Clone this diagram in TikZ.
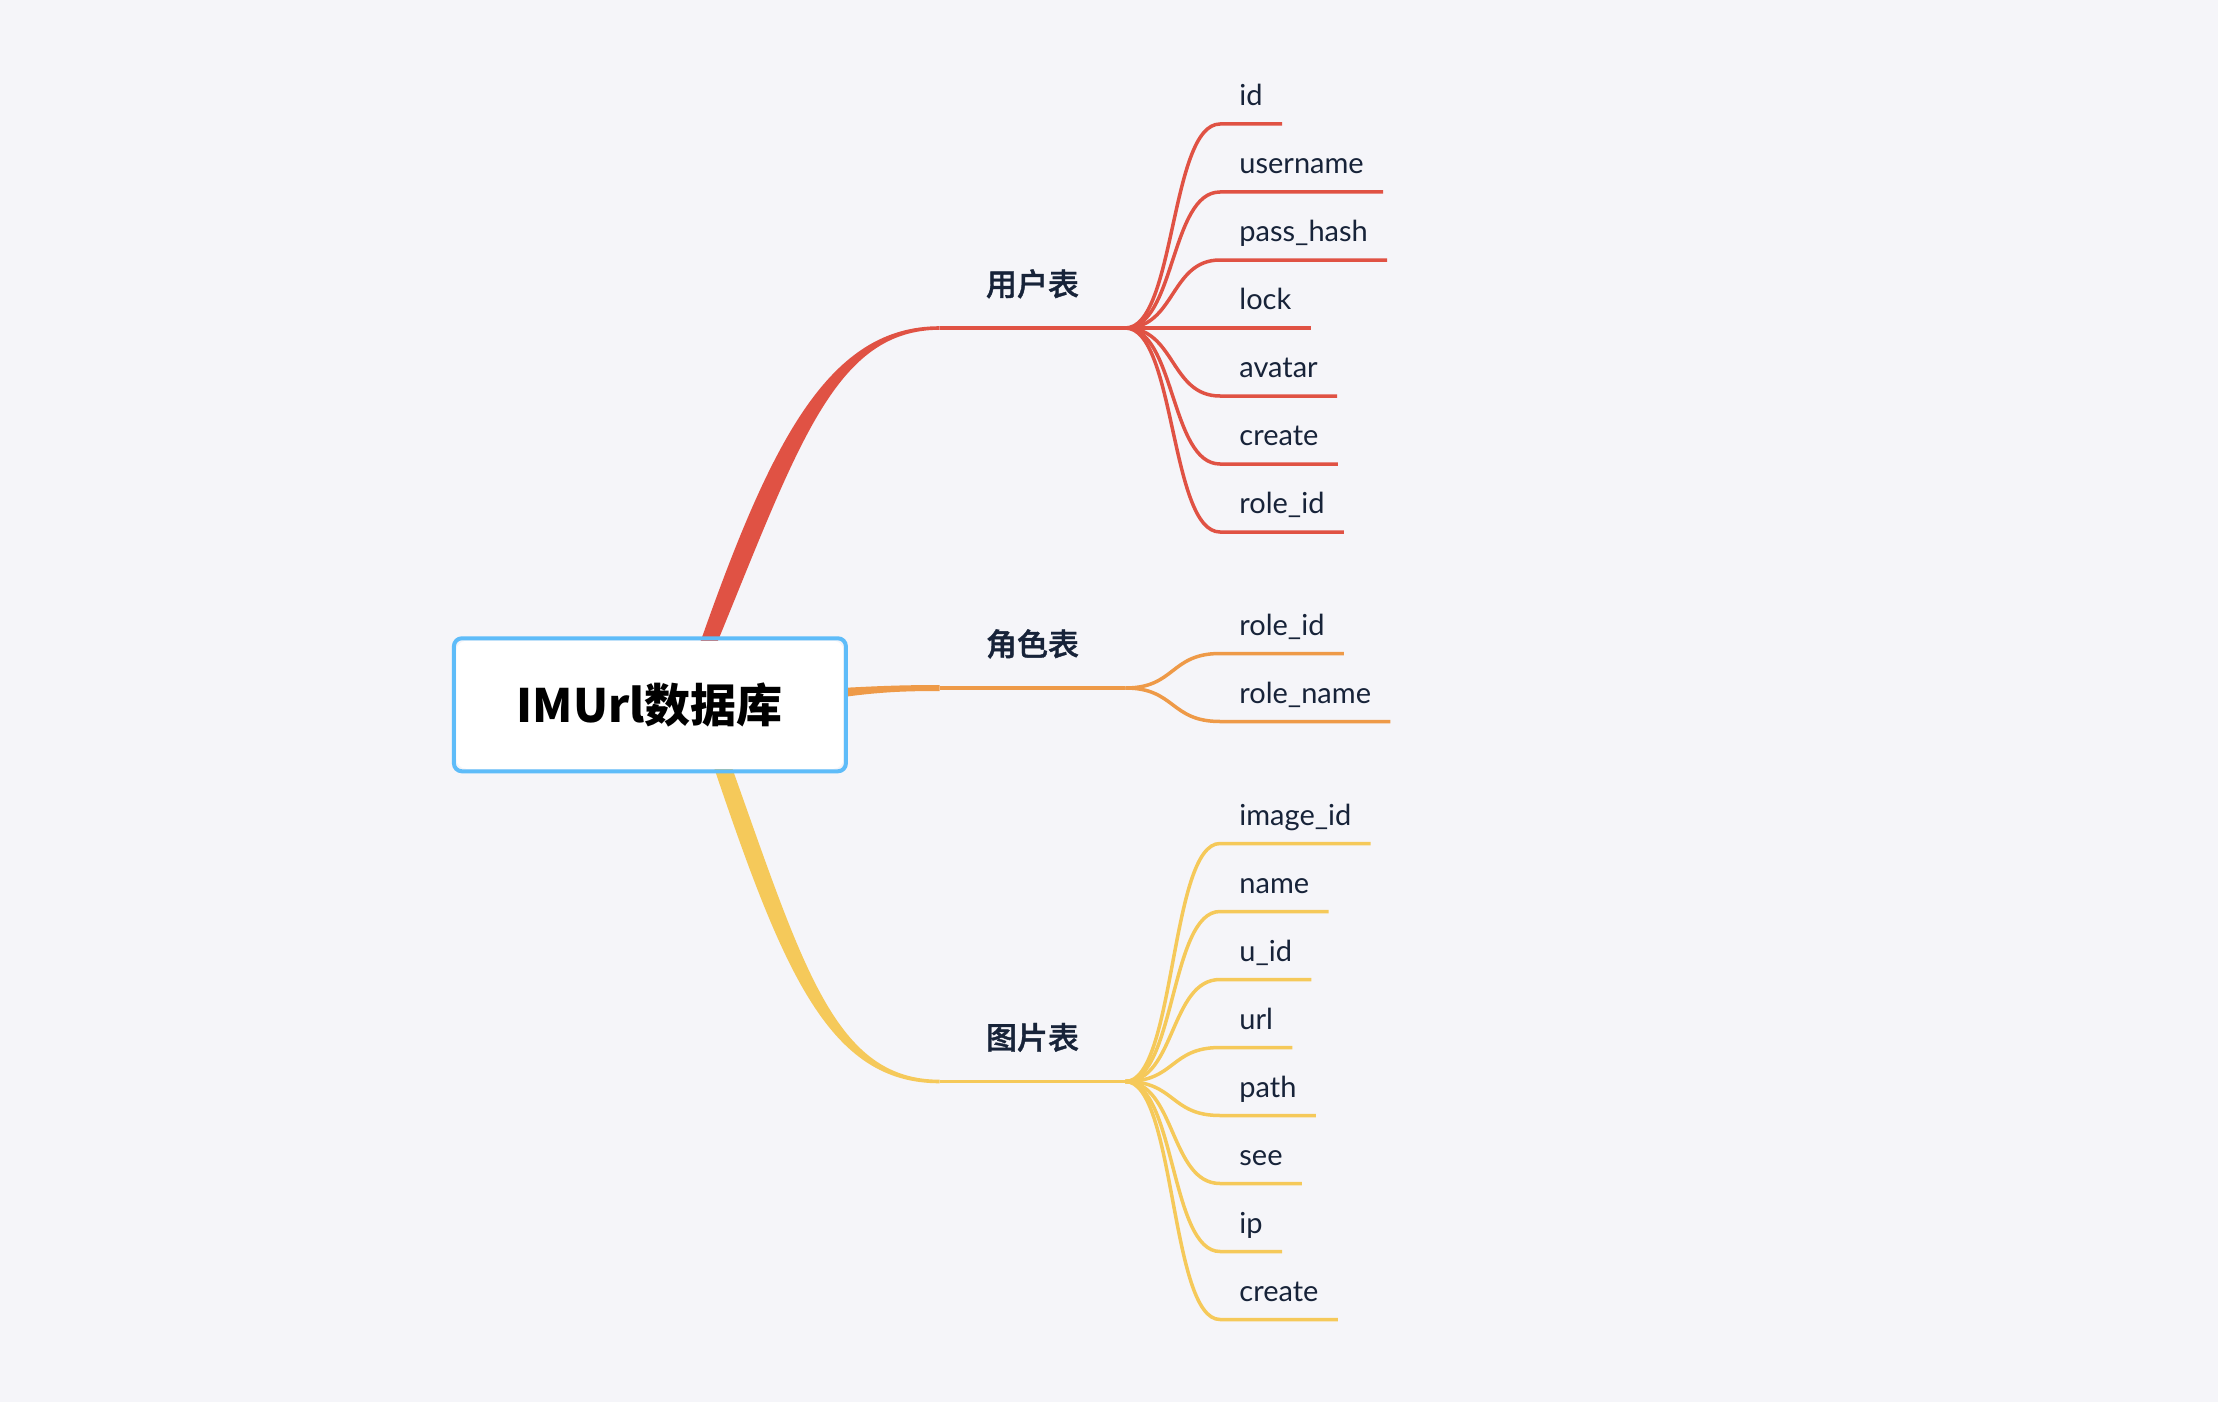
\documentclass[tikz,border=0pt]{standalone}
\usepackage{fontspec}
\setmainfont{Lato}
\newfontfamily\cjk{Noto Sans CJK SC}
\newfontfamily\cjkm[FakeBold=1.2]{Noto Sans CJK SC Medium}
\usetikzlibrary{calc}
\definecolor{bgc}{HTML}{F5F5F9}
\definecolor{redc}{HTML}{E05244}
\definecolor{orac}{HTML}{EE9A48}
\definecolor{yelc}{HTML}{F5C95A}
\definecolor{bluec}{HTML}{5EBCF9}
\definecolor{txtc}{HTML}{172339}
\pgfdeclarelayer{back}
\pgfsetlayers{back,main}
\begin{document}
\begin{tikzpicture}[x=0.5pt,y=-0.5pt,
  leaf/.style={font=\fontsize{14.5pt}{17pt}\selectfont, text=txtc, inner xsep=9.5pt, inner ysep=9pt, text depth=0pt, anchor=south west},
  branch/.style={font=\cjkm\fontsize{15.5pt}{18pt}\selectfont, text=txtc, minimum width=92.5pt, inner xsep=0pt, inner ysep=16pt, text depth=0pt, anchor=south},
  rootbox/.style={draw=bluec, line width=2pt, rounded corners=4pt, minimum width=196pt, minimum height=66.5pt, font=\cjk\bfseries\fontsize{23pt}{27pt}\selectfont, text=black},
  thin/.style={line width=1.75pt}]
\useasboundingbox (0,0) rectangle (2218,1402);
% nodes
\node[rootbox] (root) at (649.9,704.8) {IMUrl数据库};
\node[branch] (b1) at (1032.5,328) {用户表};
\node[branch] (b2) at (1032.5,688) {角色表};
\node[branch] (b3) at (1032.5,1081.5) {图片表};
\foreach \t [count=\i] in {id,username,pass\_hash,lock,avatar,create,role\_id}
  \node[leaf] (r\i) at (1220,{124+68*(\i-1)}) {\t};
\foreach \t [count=\i] in {role\_id,role\_name}
  \node[leaf] (o\i) at (1220,{653.5+68*(\i-1)}) {\t};
\foreach \t [count=\i] in {image\_id,name,u\_id,url,path,see,ip,create}
  \node[leaf] (y\i) at (1220,{843.5+68*(\i-1)}) {\t};
\begin{pgfonlayer}{back}
\fill[bgc] (0,0) rectangle (2218,1402);
% red main branch
\fill[redc] ($(root.north)+(50,7)$) .. controls +(72,-205) and +(-110,0) .. ($(b1.south west)+(0,-1.8)$)
  -- ($(b1.south west)+(0,1.8)$) .. controls +(-104,0) and +(82,-200) .. ($(root.north)+(67,7)$) -- cycle;
\draw[redc,thin] (b1.south west) -- (b1.south east);
% orange main branch
\fill[orac] ($(root.east)+(-3,-17)$) .. controls +(37,-2) and +(-32,0) .. ($(b2.south west)+(0,-3)$)
  -- ($(b2.south west)+(0,3)$) .. controls +(-32,0) and +(37,-5) .. ($(root.east)+(-3,-8)$) -- cycle;
\draw[orac,thin] (b2.south west) -- (b2.south east);
% yellow main branch
\fill[yelc] ($(root.south)+(64,-6)$) .. controls +(70,207) and +(-110,0) .. ($(b3.south west)+(0,1.8)$)
  -- ($(b3.south west)+(0,-1.8)$) .. controls +(-104,0) and +(72,202) .. ($(root.south)+(82,-6)$) -- cycle;
\draw[yelc,thin] (b3.south west) -- (b3.south east);
% leaves
\foreach \i in {1,...,7}
  \draw[redc,thin] (b1.south east) .. controls +(50,0) and +(-50,0) .. (r\i.south west) -- (r\i.south east);
\foreach \i in {1,2}
  \draw[orac,thin] (b2.south east) .. controls +(50,0) and +(-50,0) .. (o\i.south west) -- (o\i.south east);
\foreach \i in {1,...,8}
  \draw[yelc,thin] (b3.south east) .. controls +(50,0) and +(-50,0) .. (y\i.south west) -- (y\i.south east);
% white inner of root box
\fill[white, rounded corners=5pt] ($(root.north west)+(4.5,4.5)$) rectangle ($(root.south east)+(-4.5,-4.5)$);
\end{pgfonlayer}
\end{tikzpicture}
\end{document}
